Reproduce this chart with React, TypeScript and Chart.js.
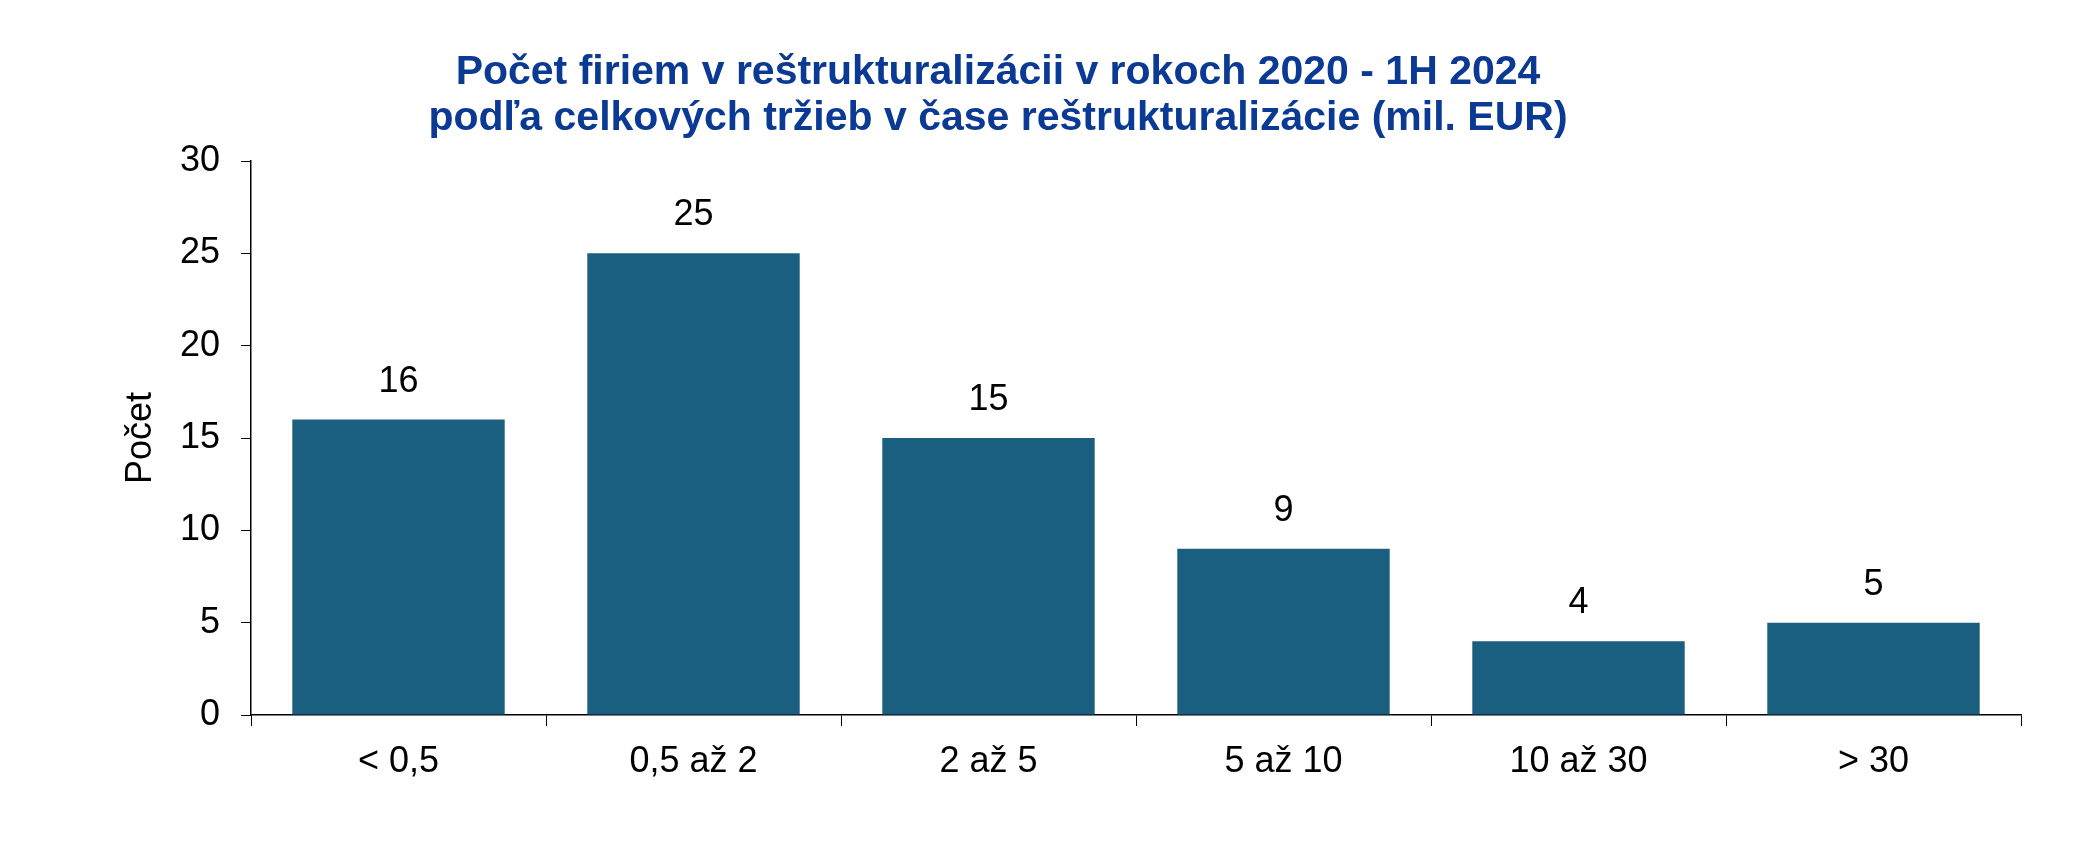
import { useEffect, useRef } from 'react'
import { Chart, registerables } from 'chart.js'

Chart.register(...registerables)

const categories = ['< 0,5', '0,5 až 2', '2 až 5', '5 až 10', '10 až 30', '> 30']
const counts = [16, 25, 15, 9, 4, 5]
const titleLines = [
  'Počet firiem v reštrukturalizácii v rokoch 2020 - 1H 2024',
  'podľa celkových tržieb v čase reštrukturalizácie (mil. EUR)',
]
const yTitle = 'Počet'

const FONT = '"Liberation Sans", Arial, sans-serif'
const BAR = '#1a5f80'
const INK = '#000000'

// value labels above each bar
const valueLabels = {
  id: 'valueLabels',
  afterDatasetsDraw(chart: Chart) {
    const { ctx } = chart
    const meta = chart.getDatasetMeta(0)
    ctx.save()
    ctx.font = '36px ' + FONT
    ctx.fillStyle = INK
    ctx.textAlign = 'center'
    ctx.textBaseline = 'alphabetic'
    meta.data.forEach((bar, i) => {
      ctx.fillText(String(counts[i]), bar.x, bar.y - 28)
    })
    ctx.restore()
  },
}

export default function App() {
  const ref = useRef<HTMLCanvasElement>(null)

  useEffect(() => {
    if (!ref.current) return
    const chart = new Chart(ref.current, {
      type: 'bar',
      data: {
        labels: categories,
        datasets: [
          {
            data: counts,
            backgroundColor: BAR,
            borderWidth: 0,
            barPercentage: 0.72,
            categoryPercentage: 1,
          },
        ],
      },
      options: {
        animation: false,
        responsive: true,
        maintainAspectRatio: false,
        layout: { padding: { left: 63, top: 153, right: 50, bottom: 40 } },
        plugins: { legend: { display: false }, tooltip: { enabled: false } },
        scales: {
          x: {
            grid: { offset: true, drawOnChartArea: false, drawTicks: true, tickLength: 11, color: INK, lineWidth: 1 },
            border: { display: true, color: INK, width: 1.5 },
            ticks: { color: INK, font: { family: FONT, size: 36 }, padding: 14, maxRotation: 0 },
            afterFit: (s: any) => {
              s.height = 80
            },
          },
          y: {
            min: 0,
            max: 30,
            ticks: { stepSize: 5, color: INK, font: { family: FONT, size: 36 }, padding: 21 },
            grid: { drawOnChartArea: false, drawTicks: true, tickLength: 10, color: INK, lineWidth: 1 },
            border: { display: true, color: INK, width: 1.5 },
            title: {
              display: true,
              text: yTitle,
              color: INK,
              font: { family: FONT, size: 36 },
              padding: { top: 48, bottom: 0 },
            },
            afterFit: (s: any) => {
              s.width = 180
            },
          },
        },
      },
      plugins: [valueLabels],
    })
    return () => chart.destroy()
  }, [])

  return (
    <div style={{ position: 'relative', width: 2063, height: 827, background: '#fff' }}>
      <canvas ref={ref} />
      <div
        style={{
          position: 'absolute',
          left: 0,
          top: 39,
          width: 1980,
          textAlign: 'center',
          fontFamily: FONT,
          fontWeight: 700,
          fontSize: 41,
          lineHeight: '46px',
          color: '#0a3a94',
          pointerEvents: 'none',
        }}
      >
        {titleLines.map((t) => (
          <div key={t}>{t}</div>
        ))}
      </div>
    </div>
  )
}
